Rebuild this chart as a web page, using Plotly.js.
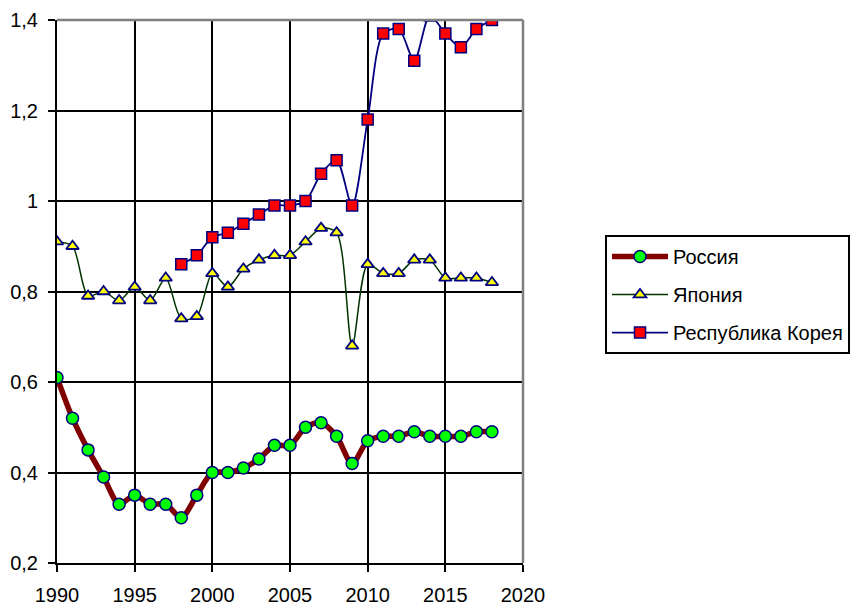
<!DOCTYPE html>
<html>
<head>
<meta charset="utf-8">
<script src="https://cdn.plot.ly/plotly-3.0.1.min.js"></script>
<style>
html, body { margin: 0; padding: 0; background: #fff; }
#chart { width: 865px; height: 608px; }
</style>
</head>
<body>
<div id="chart"></div>
<script>
const years = [1990,1991,1992,1993,1994,1995,1996,1997,1998,1999,2000,2001,2002,2003,2004,2005,2006,2007,2008,2009,2010,2011,2012,2013,2014,2015,2016,2017,2018];
const russia = [0.61,0.52,0.45,0.39,0.33,0.35,0.33,0.33,0.30,0.35,0.40,0.40,0.41,0.43,0.46,0.46,0.50,0.51,0.48,0.42,0.47,0.48,0.48,0.49,0.48,0.48,0.48,0.49,0.49];
const japan = [0.91,0.90,0.79,0.80,0.78,0.81,0.78,0.83,0.74,0.745,0.84,0.81,0.85,0.87,0.88,0.88,0.91,0.94,0.93,0.68,0.86,0.84,0.84,0.87,0.87,0.83,0.83,0.83,0.82];
const koreaYears = [1998,1999,2000,2001,2002,2003,2004,2005,2006,2007,2008,2009,2010,2011,2012,2013,2014,2015,2016,2017,2018];
const korea = [0.86,0.88,0.92,0.93,0.95,0.97,0.99,0.99,1.00,1.06,1.09,0.99,1.18,1.37,1.38,1.31,1.41,1.37,1.34,1.38,1.40];
const seriesNames = ['Россия', 'Япония', 'Республика Корея'];
const xTicks = [1990,1995,2000,2005,2010,2015,2020];
const yTicks = [0.2,0.4,0.6,0.8,1.0,1.2,1.4];
const yTickText = ['0,2','0,4','0,6','0,8','1','1,2','1,4'];

const FONT = '"Liberation Sans", Arial, sans-serif';

const traces = [
  {
    x: years, y: russia, name: seriesNames[0], mode: 'lines+markers', legendgroup: 'a',
    line: {color: '#800000', width: 5.5, shape: 'spline', smoothing: 0.8},
    marker: {symbol: 'circle', size: 12, color: '#00FF00', line: {color: '#000080', width: 1.5}}
  },
  {
    x: years, y: japan, name: seriesNames[1], mode: 'lines+markers', legendgroup: 'b',
    line: {color: '#003300', width: 1.5, shape: 'spline', smoothing: 0.8},
    marker: {symbol: 'triangle-up', size: 11, color: '#FFFF00', line: {color: '#000080', width: 1.8}}
  },
  {
    x: koreaYears, y: korea, name: seriesNames[2], mode: 'lines+markers', legendgroup: 'c',
    line: {color: '#000080', width: 1.8, shape: 'spline', smoothing: 0.8},
    marker: {symbol: 'square', size: 11, color: '#FF0000', line: {color: '#000080', width: 1.5}}
  }
];

const layout = {
  width: 865, height: 608,
  margin: {l: 57, r: 342, t: 20, b: 45},
  paper_bgcolor: '#fff', plot_bgcolor: '#fff',
  font: {family: FONT, size: 20, color: '#000'},
  separators: ',.',
  showlegend: true,
  xaxis: {
    range: [1990, 2020], tickvals: xTicks, ticktext: xTicks.map(String),
    showgrid: true, gridcolor: '#000', gridwidth: 2,
    showline: true, linecolor: '#000', linewidth: 2,
    ticks: 'outside', ticklen: 7, tickcolor: '#000', tickwidth: 2,
    ticklabelstandoff: 6,
    zeroline: false, fixedrange: true,
    tickfont: {family: FONT, size: 20, color: '#000'}
  },
  yaxis: {
    range: [0.2, 1.4], tickvals: yTicks, ticktext: yTickText,
    showgrid: true, gridcolor: '#000', gridwidth: 2,
    showline: true, linecolor: '#000', linewidth: 2,
    ticks: 'outside', ticklen: 7, tickcolor: '#000', tickwidth: 2,
    ticklabelstandoff: 6,
    zeroline: false, fixedrange: true,
    tickfont: {family: FONT, size: 20, color: '#000'}
  },
  shapes: [
    {type: 'line', xref: 'paper', yref: 'paper', x0: 0, x1: 1, y0: 1, y1: 1, layer: 'above', line: {color: '#808080', width: 2.5}},
    {type: 'line', xref: 'paper', yref: 'paper', x0: 1, x1: 1, y0: 0, y1: 1, layer: 'above', line: {color: '#808080', width: 2.5}}
  ],
  legend: {
    x: 1.176, y: 0.604, xanchor: 'left', yanchor: 'top',
    bgcolor: '#fff', bordercolor: '#000', borderwidth: 2,
    font: {family: FONT, size: 20, color: '#000'},
    traceorder: 'grouped', tracegroupgap: 9, itemwidth: 56
  }
};

Plotly.newPlot('chart', traces, layout, {displayModeBar: false, staticPlot: true});
</script>
</body>
</html>
